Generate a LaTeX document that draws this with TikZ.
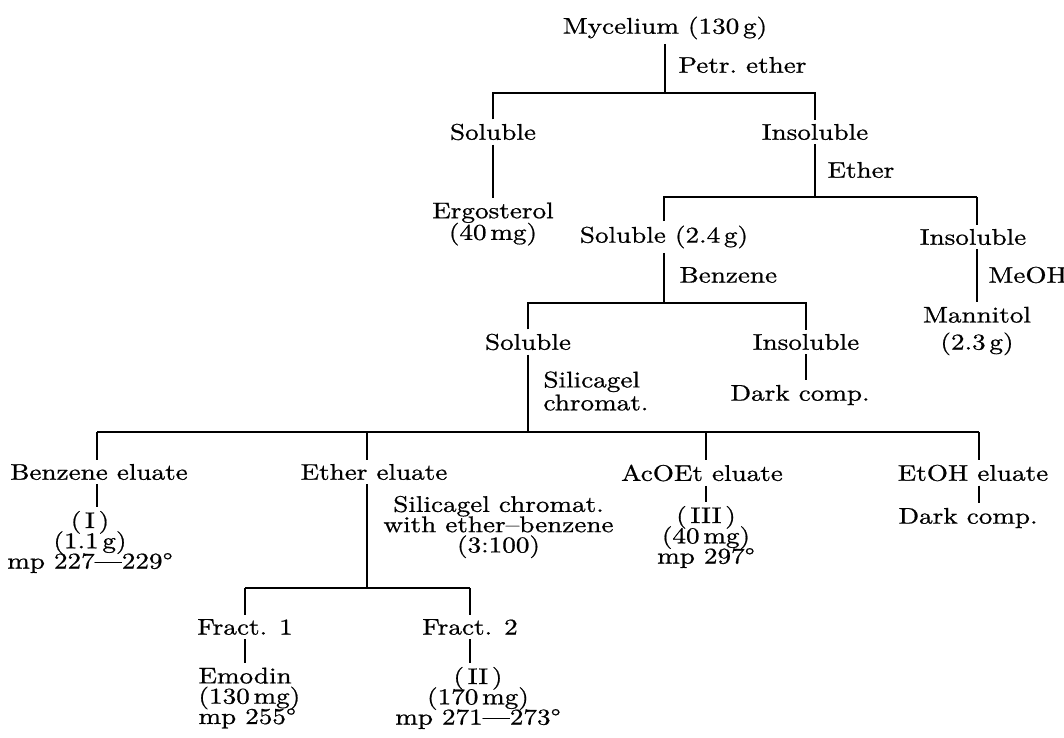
\documentclass[tikz,border=0pt]{standalone}
\usepackage{fontspec}
\setmainfont{lmroman10-regular.otf}[FakeStretch=1.2,FakeBold=0.8]
\usepackage{tikz}
\newcommand\flowfont{\fontsize{8.7}{7.8}\selectfont\lineskiplimit=-10pt\relax}
\begin{document}
\begin{tikzpicture}[x=0.3846pt,y=-0.3846pt,line width=0.45pt,
every node/.style={font=\flowfont,inner sep=1.5pt,align=center},
solvent/.style={anchor=west,align=left}]
\useasboundingbox(0,0)rectangle(1064,738);
\node(myc)at(665,28){Mycelium (130\,g)};
\node[solvent](petr)at(674,65){Petr.\ ether};
\coordinate(b1)at(665,93);
\node(sol1)at(493,132){Soluble};
\node(ins1)at(815,132){Insoluble};
\draw(myc)--(b1);
\draw(sol1)|-(b1)-|(ins1);
\node(erg)at(493,224){Ergosterol\\[0.5pt](40\,mg)};
\draw(sol1)--(erg);
\node[solvent](eth)at(823,170){Ether};
\coordinate(b2)at(815,197);
\draw(ins1)--(b2);
\node(sol2)at(664,237){Soluble (2.4\,g)};
\node(ins2)at(973,237){Insoluble};
\coordinate(b2r)at(977,197);
\draw(sol2)|-(b2)--(b2r);
\draw(b2r)--(b2r|-ins2.north);
\node[solvent](meoh)at(984,275){MeOH};
\node(mann)at(977,331){Mannitol\\[2.6pt](2.3\,g)};
\draw(ins2.south-|b2r)--(b2r|-mann.north);
\node[solvent](benz)at(675,275){Benzene};
\coordinate(b3)at(664,303);
\draw(sol2)--(b3);
\node(sol3)at(528,342){Soluble};
\node(ins3)at(806,342){Insoluble};
\draw(sol3)|-(b3)-|(ins3);
\node(dark1)at(800,395){Dark comp.};
\draw(ins3.south)--(ins3.south|-dark1.north);
\node[solvent](sil1)at(539,391){Silicagel\\[1pt]chromat.};
\coordinate(b4)at(528,432);
\draw(sol3)--(b4);
\coordinate(b4l)at(97,432);
\coordinate(b4e)at(367,432);
\coordinate(b4a)at(706,432);
\coordinate(b4r)at(979,432);
\draw(b4l)--(b4r);
\node(bel)at(99,472){Benzene eluate};
\node(eel)at(374,472){Ether eluate};
\node(ael)at(702,473){AcOEt eluate};
\node(etel)at(973,473){EtOH eluate};
\draw(b4l)--(b4l|-bel.north);
\draw(b4e)--(b4e|-eel.north);
\draw(b4a)--(b4a|-ael.north);
\draw(b4r)--(b4r|-etel.north);
\node(comp1)at(90,542){(\,I\,)\\(1.1\,g)\\mp 227---229°};
\draw(bel.south-|b4l)--(b4l|-comp1.north);
\node[solvent,align=center](sil2)at(379,527){Silicagel chromat.\\with ether--benzene\\(3:100)};
\coordinate(b5)at(367,588);
\draw(eel.south-|b5)--(b5);
\coordinate(b5l)at(245,588);
\coordinate(b5r)at(470,588);
\draw(b5l)--(b5r);
\node(fr1)at(245,627){Fract. 1};
\node(fr2)at(470,627){Fract. 2};
\draw(b5l)--(fr1);
\draw(b5r)--(fr2);
\node[anchor=west,align=left](emo)at(194,698){Emodin\\(130\,mg)\\mp 255°};
\draw(fr1)--(fr1|-emo.north);
\node(comp2)at(478,698){(\,II\,)\\(170\,mg)\\mp 271---273°};
\draw(fr2)--(fr2|-comp2.north);
\node(comp3)at(706,537){(\,III\,)\\(40\,mg)\\mp 297°};
\draw(ael.south-|b4a)--(b4a|-comp3.north);
\node(dark2)at(968,518){Dark comp.};
\draw(etel.south-|b4r)--(b4r|-dark2.north);
\end{tikzpicture}
\end{document}
